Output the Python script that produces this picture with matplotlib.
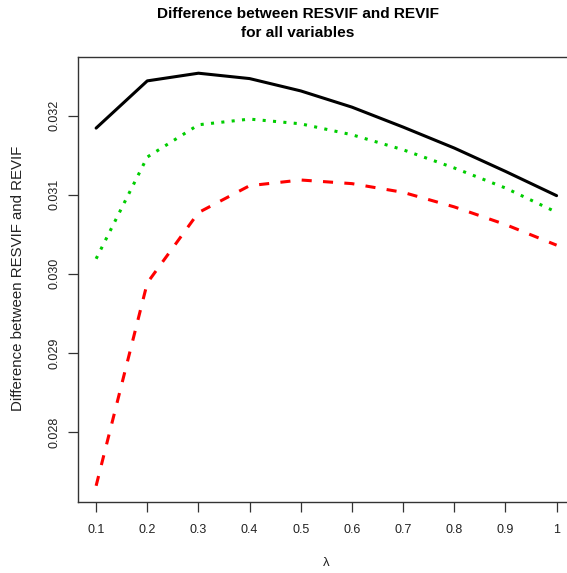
"""
RESVIF 與 REVIF 差異圖
"""
import matplotlib
matplotlib.use("Agg")
import matplotlib.pyplot as plt

# 資料
lam = [0.1, 0.2, 0.3, 0.4, 0.5, 0.6, 0.7, 0.8, 0.9, 1.0]
solid_vals = [0.031841, 0.032438, 0.032535, 0.032467, 0.032311,
              0.032106, 0.031854, 0.031589, 0.031294, 0.030987]
dotted_vals = [0.030189, 0.031475, 0.031883, 0.031955, 0.031895,
               0.031757, 0.031567, 0.031337, 0.031084, 0.030777]
dashed_vals = [0.027319, 0.029884, 0.030773, 0.031113, 0.031185,
               0.031139, 0.031029, 0.030845, 0.030622, 0.030361]
x_ticks = [0.1, 0.2, 0.3, 0.4, 0.5, 0.6, 0.7, 0.8, 0.9, 1.0]
x_ticklabels = ["0.1", "0.2", "0.3", "0.4", "0.5", "0.6", "0.7", "0.8", "0.9", "1"]
y_ticks = [0.028, 0.029, 0.030, 0.031, 0.032]
y_ticklabels = ["0.028", "0.029", "0.030", "0.031", "0.032"]

plt.rcParams["font.family"] = ["Liberation Sans", "DejaVu Sans"]

W, H = 567, 573
fig = plt.figure(figsize=(W / 100, H / 100), dpi=100)

# 圖框右側超出畫面 (仿原圖裁切)
left, right, top, bottom = 77.7, 575, 56.7, 502.3
ax = fig.add_axes([left / W, 1 - bottom / H, (right - left) / W, (bottom - top) / H])

lw = 2.2
ax.plot(lam, solid_vals, color="black", linewidth=lw, solid_capstyle="round",
        solid_joinstyle="round")
ax.plot(lam, dotted_vals, color="#00cd00", linewidth=lw, linestyle=(0, (1.0, 2.4)),
        dash_capstyle="butt")
ax.plot(lam, dashed_vals, color="#ff0000", linewidth=lw, linestyle=(0, (3.3, 3.7)),
        dash_capstyle="butt")

# 4% 邊距 (R 預設)
xr = max(lam) - min(lam)
ax.set_xlim(min(lam) - 0.04 * xr, max(lam) + 0.04 * xr)
all_y = solid_vals + dotted_vals + dashed_vals
yr = max(all_y) - min(all_y)
ax.set_ylim(min(all_y) - 0.04 * yr, max(all_y) + 0.04 * yr)

ax.set_xticks(x_ticks)
ax.set_xticklabels(x_ticklabels)
ax.set_yticks(y_ticks)
ax.set_yticklabels(y_ticklabels, rotation=90, va="center")
ax.tick_params(axis="both", length=7.2, width=0.9, color="#333333",
               labelsize=9.0, labelcolor="#222222")
ax.tick_params(axis="x", pad=8.5)
ax.tick_params(axis="y", pad=5)
for s in ax.spines.values():
    s.set_linewidth(1.0)
    s.set_color("#333333")

fig.text(298 / W, 1 - 14 / H, "Difference between RESVIF and REVIF",
         ha="center", va="center", fontsize=11.1, fontweight="bold")
fig.text(298 / W, 1 - 33 / H, "for all variables",
         ha="center", va="center", fontsize=11.1, fontweight="bold")
fig.text(18.5 / W, 1 - 278 / H, "Difference between RESVIF and REVIF",
         ha="center", va="center", rotation=90, fontsize=10.8, color="#222222")
fig.text(326 / W, 1 - 563 / H, "λ", ha="center", va="center", fontsize=9.5,
         color="#222222")

fig.savefig("out.png", dpi=100)
plt.close(fig)
